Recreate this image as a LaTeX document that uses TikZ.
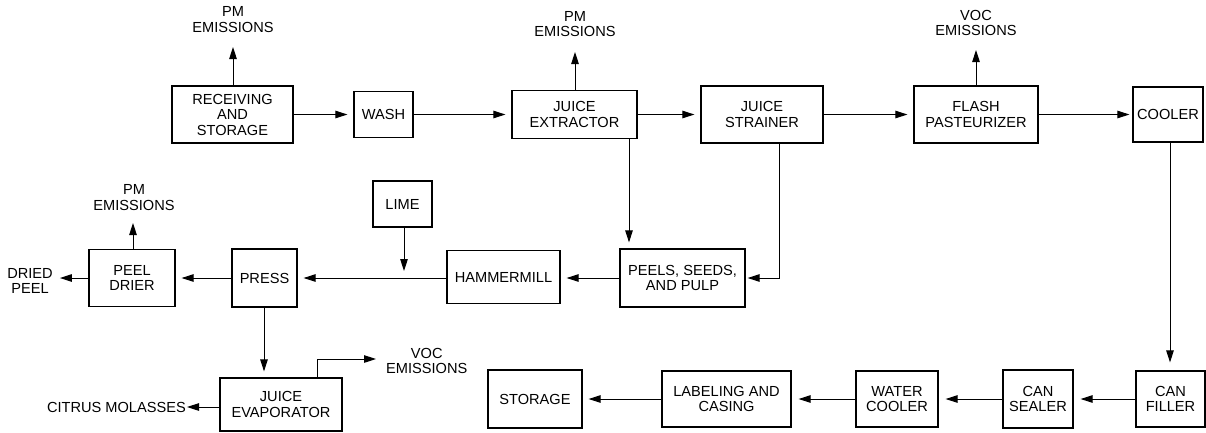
\documentclass[tikz,border=0pt]{standalone}
\usepackage{fontspec}
\setmainfont{Liberation Sans}
\usetikzlibrary{arrows.meta}
\tikzset{
  txt/.style={align=center, inner sep=0pt, font=\fontsize{14.6}{15.5}\selectfont},
  box/.style={txt, draw, line width=1.2pt},
  arr/.style={line width=1pt, -{Triangle[length=12pt,width=7.5pt]}},
  gap/.style={shorten >=6pt},
}
\begin{document}
\begin{tikzpicture}[x=1pt,y=-1pt]
\useasboundingbox (0,0) rectangle (1206,432);
% top row
\node[box, minimum width=121pt, minimum height=57pt] (rec) at (232.5,114.5) {RECEIVING\\AND\\STORAGE};
\node[box, minimum width=59pt, minimum height=46pt] (wash) at (383.5,114.5) {WASH};
\node[box, minimum width=125pt, minimum height=48pt] (extr) at (574.5,114.5) {JUICE\\EXTRACTOR};
\node[box, minimum width=122pt, minimum height=57pt] (strn) at (762,114.5) {JUICE\\STRAINER};
\node[box, minimum width=124pt, minimum height=57pt] (flash) at (976,114.5) {FLASH\\PASTEURIZER};
\node[box, minimum width=70pt, minimum height=55pt] (cool) at (1168,114.5) {COOLER};
% middle row
\node[box, minimum width=59pt, minimum height=46pt] (lime) at (402.5,204) {LIME};
\node[box, minimum width=86pt, minimum height=57pt] (drier) at (132,278) {PEEL\\DRIER};
\node[box, minimum width=65pt, minimum height=58pt] (press) at (264.5,278) {PRESS};
\node[box, minimum width=113pt, minimum height=53pt] (hammer) at (503.5,277) {HAMMERMILL};
\node[box, minimum width=125pt, minimum height=58pt] (peels) at (682.5,278) {PEELS, SEEDS,\\AND PULP};
% bottom row
\node[box, minimum width=122pt, minimum height=53pt] (evap) at (281,404.5) {JUICE\\EVAPORATOR};
\node[box, minimum width=94pt, minimum height=58pt] (stor) at (535,399) {STORAGE};
\node[box, minimum width=129pt, minimum height=56pt] (label) at (726.5,399) {LABELING AND\\CASING};
\node[box, minimum width=82pt, minimum height=56pt] (water) at (897,399) {WATER\\COOLER};
\node[box, minimum width=70pt, minimum height=58pt] (sealer) at (1038,399) {CAN\\SEALER};
\node[box, minimum width=69pt, minimum height=56pt] (filler) at (1170.5,399) {CAN\\FILLER};
% free labels
\node[txt] (pm1) at (233,19.5) {PM\\EMISSIONS};
\node[txt] (pm2) at (575,24) {PM\\EMISSIONS};
\node[txt] (voc1) at (976,23) {VOC\\EMISSIONS};
\node[txt] (pm3) at (134,197.5) {PM\\EMISSIONS};
\node[txt, anchor=west] (voc2) at (386,361) {VOC\\EMISSIONS};
\node[txt] (dp) at (30,281) {DRIED\\PEEL};
\node[txt, anchor=east] (cm) at (186,407) {CITRUS MOLASSES};
% helper coordinates
\coordinate (t1) at (233,47);
\coordinate (t2) at (575,52);
\coordinate (t3) at (976,50);
\coordinate (t4) at (133,223);
\coordinate (xe) at (629,0);
\coordinate (xs) at (779,0);
\coordinate (xl) at (404,0);
\coordinate (xp) at (264,0);
\coordinate (xc) at (1170,0);
\coordinate (xv) at (317,0);
\coordinate (tv) at (376,359);
% connectors top
\draw[arr] (rec.north -| t1) -- (t1);
\draw[arr] (extr.north -| t2) -- (t2);
\draw[arr] (flash.north -| t3) -- (t3);
\draw[arr, gap] (rec) -- (wash);
\draw[arr, gap] (wash) -- (extr);
\draw[arr, gap] (extr) -- (strn);
\draw[arr, gap] (strn) -- (flash);
\draw[arr, shorten >=3pt] (flash) -- (cool);
\draw[arr, gap] (extr.south -| xe) -- (peels.north -| xe);
\draw[arr, shorten >=2pt] (strn.south -| xs) |- (peels.east);
% middle
\draw[arr, gap] (peels.west) -- (hammer.east |- peels);
\draw[arr, gap] (hammer.west |- peels) -- (press.east |- peels);
\draw[arr, shorten >=7pt] (lime.south -| xl) -- (xl |- peels);
\draw[arr, gap] (press) -- (drier);
\draw[arr, shorten >=7pt] (drier) -- (dp.east |- drier);
\draw[arr] (drier.north -| t4) -- (t4);
\draw[arr, gap] (press.south -| xp) -- (evap.north -| xp);
% evaporator
\draw[arr, shorten >=1pt] (evap.west |- cm) -- (cm.east);
\draw[arr] (evap.north -| xv) |- (tv);
% cooler and bottom row
\draw[arr, shorten >=8pt] (cool.south -| xc) -- (filler.north -| xc);
\draw[arr, shorten >=7pt] (filler) -- (sealer);
\draw[arr, shorten >=7pt] (sealer) -- (water);
\draw[arr, shorten >=7pt] (water) -- (label);
\draw[arr, gap] (label) -- (stor);
\end{tikzpicture}
\end{document}
